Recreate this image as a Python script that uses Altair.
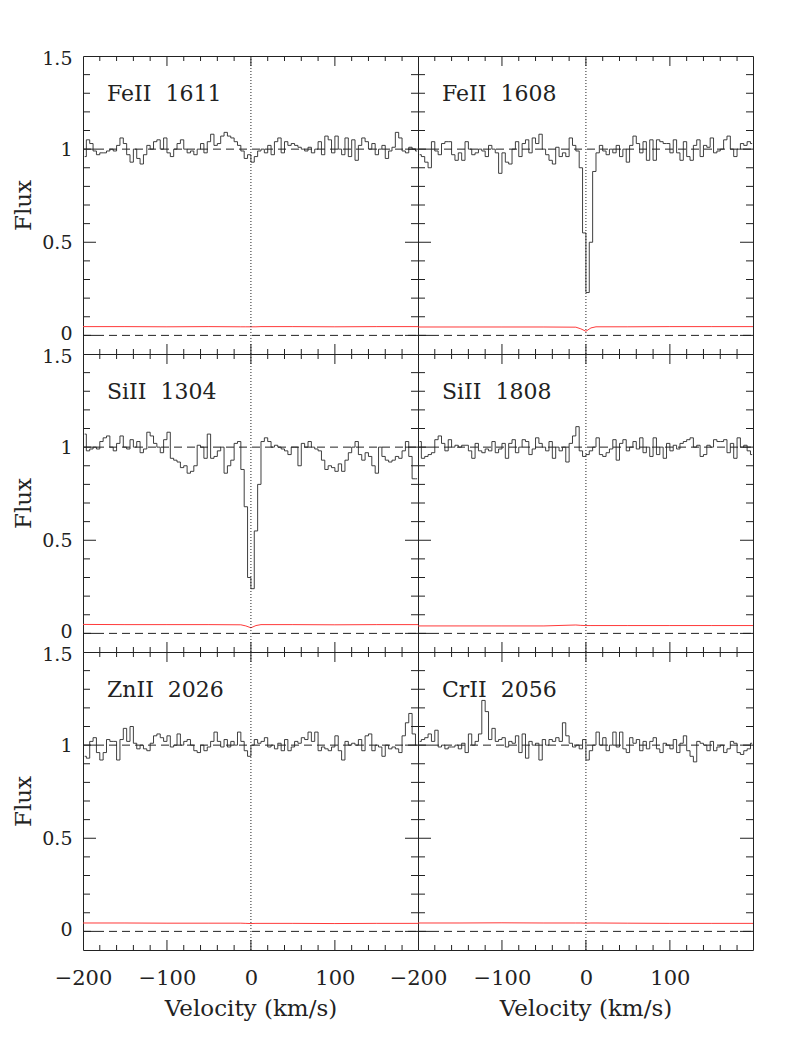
import altair as alt
import pandas as pd

# ---------------- data ----------------
VEL = list(range(-198, 200, 4))          # spectrum pixel centres (km/s)
ERR_VEL = [-200, -150, -100, -50, -12, -6, 0, 6, 12, 50, 100, 150, 199]

LABELS = ["FeII\u00a0\u00a01611", "FeII\u00a0\u00a01608", "SiII\u00a0\u00a01304",
          "SiII\u00a0\u00a01808", "ZnII\u00a0\u00a02026", "CrII\u00a0\u00a02056"]

FLUX_FEII_1611 = [
    0.96, 1.05, 1.03, 0.99, 0.97, 0.98, 0.98, 0.99, 1.00, 0.99,
    1.02, 1.06, 1.03, 0.97, 0.93, 1.00, 0.95, 0.92, 0.97, 1.02,
    1.00, 1.04, 1.05, 1.00, 1.06, 0.98, 0.96, 1.00, 1.03, 1.05,
    1.00, 0.98, 0.99, 0.97, 1.00, 1.03, 0.98, 1.04, 1.08, 1.02,
    1.03, 1.07, 1.09, 1.07, 1.06, 1.04, 1.02, 0.99, 0.95, 0.97,
    0.93, 0.96, 0.99, 1.00, 0.98, 1.02, 0.97, 1.04, 1.06, 0.98,
    1.04, 1.02, 1.03, 1.02, 1.01, 1.00, 0.99, 1.01, 0.98, 1.00,
    1.04, 0.97, 1.07, 1.05, 0.98, 1.07, 1.00, 0.97, 1.06, 0.96,
    1.05, 0.94, 1.02, 1.06, 1.04, 1.00, 1.03, 0.97, 1.00, 1.02,
    0.95, 0.99, 1.01, 1.09, 1.06, 0.99, 0.98, 1.01, 1.00, 0.99,
]
FLUX_FEII_1608 = [
    0.97, 0.96, 0.93, 0.90, 1.04, 0.99, 0.97, 1.03, 1.04, 1.04,
    0.97, 0.94, 0.98, 0.94, 1.04, 1.00, 0.97, 0.98, 1.00, 0.99,
    0.96, 1.02, 1.00, 0.98, 0.87, 0.98, 0.93, 0.92, 1.00, 1.04,
    0.96, 1.03, 1.05, 0.98, 1.06, 1.03, 1.08, 1.00, 0.97, 0.94,
    0.92, 1.01, 0.96, 0.98, 0.96, 1.06, 1.02, 0.99, 0.90, 0.55,
    0.23, 0.50, 0.88, 0.98, 1.02, 0.99, 0.97, 1.00, 0.98, 1.02,
    0.96, 1.00, 0.93, 1.02, 1.07, 1.03, 0.98, 1.04, 0.94, 1.05,
    0.94, 1.05, 1.04, 1.03, 1.03, 0.98, 1.05, 0.98, 0.94, 1.04,
    0.96, 0.94, 1.02, 1.05, 0.96, 1.02, 1.01, 1.06, 0.98, 0.99,
    1.00, 1.05, 1.07, 1.00, 0.96, 1.00, 1.03, 1.02, 1.04, 1.03,
]
FLUX_SIII_1304 = [
    1.07, 0.98, 0.99, 1.00, 0.99, 1.03, 1.05, 1.06, 1.00, 0.98,
    1.02, 1.06, 1.00, 0.99, 1.04, 1.00, 1.03, 0.97, 0.99, 1.08,
    1.06, 1.02, 1.00, 0.97, 1.04, 1.08, 0.94, 0.93, 0.92, 0.89,
    0.90, 0.86, 0.87, 0.90, 1.01, 1.00, 0.94, 1.07, 0.94, 0.95,
    0.98, 1.00, 0.86, 0.90, 0.93, 1.02, 1.03, 0.88, 0.68, 0.30,
    0.24, 0.55, 0.80, 1.03, 1.05, 1.03, 1.00, 1.01, 1.00, 0.99,
    0.98, 0.96, 1.00, 1.00, 0.90, 1.02, 1.00, 1.03, 1.00, 0.99,
    0.98, 0.93, 0.88, 0.90, 0.89, 0.87, 0.91, 0.87, 0.93, 0.97,
    1.00, 1.03, 0.96, 0.93, 0.97, 0.95, 0.90, 0.86, 1.00, 0.95,
    0.93, 0.92, 0.93, 0.95, 0.94, 0.98, 1.03, 0.95, 0.83, 0.83,
]
FLUX_SIII_1808 = [
    1.03, 0.94, 0.95, 0.96, 0.97, 1.04, 1.06, 1.02, 0.98, 1.04,
    1.00, 1.01, 1.00, 1.01, 1.01, 0.98, 0.94, 1.02, 0.98, 0.97,
    0.99, 0.98, 1.03, 0.97, 0.99, 1.02, 0.94, 1.02, 1.04, 0.97,
    1.00, 1.04, 1.03, 0.96, 0.99, 1.05, 1.02, 1.00, 0.98, 1.03,
    0.94, 1.00, 0.98, 1.00, 0.92, 1.02, 1.06, 1.11, 0.98, 0.95,
    0.96, 0.98, 1.00, 1.05, 0.96, 0.95, 0.97, 0.99, 1.04, 0.93,
    1.02, 1.04, 0.98, 1.00, 1.03, 0.99, 1.05, 0.97, 1.00, 0.95,
    1.05, 0.96, 1.00, 0.94, 1.02, 0.98, 1.01, 0.99, 1.02, 1.03,
    1.04, 1.05, 1.00, 1.01, 0.95, 0.96, 1.01, 1.00, 1.04, 1.03,
    1.03, 1.04, 0.97, 1.02, 0.94, 1.05, 1.00, 1.01, 0.98, 0.96,
]
FLUX_ZNII_2026 = [
    0.94, 0.93, 1.02, 1.04, 0.96, 0.92, 0.96, 1.03, 1.02, 1.02,
    0.92, 1.03, 1.09, 1.02, 1.10, 1.01, 0.98, 1.00, 0.98, 0.97,
    1.01, 1.05, 1.06, 1.04, 1.02, 1.05, 0.99, 1.00, 1.06, 1.00,
    1.02, 1.03, 1.00, 0.97, 0.96, 1.00, 0.97, 0.99, 1.02, 1.07,
    1.02, 0.99, 1.03, 0.99, 1.02, 1.00, 1.07, 1.02, 0.97, 0.94,
    1.00, 1.03, 1.01, 1.02, 1.04, 0.99, 1.00, 0.98, 1.01, 0.97,
    1.03, 0.97, 0.99, 1.02, 1.01, 1.04, 1.03, 1.07, 1.02, 1.07,
    0.97, 0.99, 0.98, 0.97, 0.99, 1.05, 0.97, 0.92, 1.02, 1.00,
    1.01, 1.00, 1.03, 0.97, 1.05, 1.06, 0.97, 1.00, 0.99, 0.94,
    1.00, 0.98, 0.99, 0.98, 0.96, 1.05, 1.12, 1.17, 1.06, 1.00,
]
FLUX_CRII_2056 = [
    1.02, 1.03, 1.04, 1.06, 1.02, 1.08, 0.99, 1.00, 0.98, 0.99,
    0.99, 1.00, 0.98, 1.01, 0.96, 1.06, 1.00, 1.02, 1.06, 1.24,
    1.18, 1.03, 1.09, 1.02, 1.03, 1.04, 0.99, 1.02, 1.01, 1.05,
    0.96, 1.06, 0.93, 1.02, 1.00, 1.01, 0.92, 1.03, 1.00, 1.03,
    1.02, 1.04, 1.02, 1.12, 1.05, 1.01, 0.99, 1.00, 0.98, 1.03,
    0.92, 0.97, 1.00, 1.07, 1.00, 1.04, 0.97, 1.00, 1.07, 0.99,
    1.07, 0.98, 0.96, 1.04, 1.01, 1.03, 0.97, 1.02, 0.98, 1.02,
    1.04, 0.98, 0.96, 1.01, 1.00, 0.98, 1.03, 0.96, 1.01, 1.05,
    0.97, 0.94, 0.91, 1.02, 1.01, 1.00, 0.97, 1.02, 0.97, 0.99,
    1.00, 0.96, 0.98, 1.02, 1.01, 0.96, 0.95, 0.97, 0.98, 1.01,
]

ERR_FEII_1611 = [0.047, 0.047, 0.046, 0.047, 0.046, 0.046, 0.046, 0.046, 0.047, 0.047, 0.046, 0.047, 0.047]
ERR_FEII_1608 = [0.045, 0.045, 0.045, 0.045, 0.044, 0.035, 0.022, 0.040, 0.046, 0.046, 0.047, 0.047, 0.047]
ERR_SIII_1304 = [0.048, 0.047, 0.047, 0.047, 0.046, 0.040, 0.030, 0.042, 0.047, 0.047, 0.046, 0.047, 0.047]
ERR_SIII_1808 = [0.040, 0.040, 0.040, 0.040, 0.045, 0.043, 0.042, 0.042, 0.042, 0.042, 0.042, 0.042, 0.042]
ERR_ZNII_2026 = [0.045, 0.045, 0.044, 0.044, 0.044, 0.043, 0.042, 0.043, 0.043, 0.043, 0.042, 0.043, 0.043]
ERR_CRII_2056 = [0.045, 0.045, 0.046, 0.045, 0.045, 0.045, 0.044, 0.045, 0.045, 0.044, 0.043, 0.043, 0.043]

GUIDE_Y = [0.0, 1.0]
ZERO_V = [0]
X_LABELS = [-200, -100, 0, 100]
Y_LABELS = [0, 0.5, 1, 1.5]
X_MINOR = [-180, -160, -140, -120, -80, -60, -40, -20, 20, 40, 60, 80, 120, 140, 160, 180]
X_MAJOR = [-100, 0, 100]
Y_MINOR = [0.1, 0.2, 0.3, 0.4, 0.6, 0.7, 0.8, 0.9, 1.1, 1.2, 1.3, 1.4]
Y_MAJOR = [0.0, 0.5, 1.0]

# ---------------- style ----------------
W, H = 335, 298
FONT = "DejaVu Serif"
INK = "#222222"
LINE = "#2a2a2a"
RED = "#ff3a3a"

xscale = alt.Scale(domain=[-200, 199], nice=False, zero=False)
yscale = alt.Scale(domain=[-0.1, 1.5], nice=False, zero=False)


def make_xaxis(show):
    if not show:
        return None
    return alt.Axis(values=X_LABELS, format="d", ticks=False, domain=False, grid=False,
                    labelFont=FONT, labelFontSize=21, labelColor=INK, labelPadding=17,
                    labelFlush=False, labelOverlap=False,
                    title="Velocity (km/s)", titleFont=FONT, titleFontSize=23,
                    titleFontWeight="normal", titleColor=INK, titlePadding=9)


def make_yaxis(show):
    if not show:
        return None
    return alt.Axis(values=Y_LABELS, format="~g", ticks=False, domain=False, grid=False,
                    labelFont=FONT, labelFontSize=19, labelColor=INK, labelPadding=11,
                    labelFlush=False, labelOverlap=False,
                    labelOffset={"condition": [
                        {"test": "datum.value == 0", "value": -2},
                        {"test": "datum.value == 1.5", "value": 2}],
                        "value": 0},
                    title="Flux", titleFont=FONT, titleFontSize=23,
                    titleFontWeight="normal", titleColor=INK, titlePadding=6)


def panel(label, flux, err, show_x, show_y):
    xa = make_xaxis(show_x)
    ya = make_yaxis(show_y)

    def X(f):
        return alt.X(f, type="quantitative", scale=xscale, axis=xa)

    def Y(f):
        return alt.Y(f, type="quantitative", scale=yscale, axis=ya)

    spec = alt.Chart(pd.DataFrame({"v": VEL, "f": flux})).mark_line(
        interpolate="step", color=LINE, strokeWidth=0.9, clip=True
    ).encode(x=X("v"), y=Y("f"))

    errl = alt.Chart(pd.DataFrame({"v": ERR_VEL, "e": err})).mark_line(
        color=RED, strokeWidth=1, clip=True
    ).encode(x=X("v"), y=Y("e"))

    hl = alt.Chart(pd.DataFrame({"g": GUIDE_Y})).mark_rule(
        color=INK, strokeDash=[8, 5], strokeWidth=1
    ).encode(y=Y("g"), x=alt.value(0), x2=alt.value(W))

    vl = alt.Chart(pd.DataFrame({"z": ZERO_V})).mark_rule(
        color=INK, strokeDash=[1, 2], strokeWidth=1
    ).encode(x=X("z"), y=alt.value(0), y2=alt.value(H))

    layers = [spec, errl, hl, vl]

    xmin = pd.DataFrame({"t": X_MINOR})
    xmaj = pd.DataFrame({"t": X_MAJOR})
    ymin = pd.DataFrame({"t": Y_MINOR})
    ymaj = pd.DataFrame({"t": Y_MAJOR})
    for df, ln in ((xmin, 5), (xmaj, 10)):
        layers.append(alt.Chart(df).mark_rule(color=INK, strokeWidth=1).encode(
            x=X("t"), y=alt.value(0), y2=alt.value(ln)))
        layers.append(alt.Chart(df).mark_rule(color=INK, strokeWidth=1).encode(
            x=X("t"), y=alt.value(H - ln), y2=alt.value(H)))
    for df, ln in ((ymin, 7), (ymaj, 13)):
        layers.append(alt.Chart(df).mark_rule(color=INK, strokeWidth=1).encode(
            y=Y("t"), x=alt.value(0), x2=alt.value(ln)))
        layers.append(alt.Chart(df).mark_rule(color=INK, strokeWidth=1).encode(
            y=Y("t"), x=alt.value(W - ln), x2=alt.value(W)))

    txt = alt.Chart(pd.DataFrame({"label": [label]})).mark_text(
        align="left", baseline="alphabetic", font=FONT, fontSize=22, color=INK
    ).encode(text="label:N", x=alt.value(24), y=alt.value(45))
    layers.append(txt)

    return alt.layer(*layers).properties(width=W, height=H)


p1 = panel(LABELS[0], FLUX_FEII_1611, ERR_FEII_1611, False, True)
p2 = panel(LABELS[1], FLUX_FEII_1608, ERR_FEII_1608, False, False)
p3 = panel(LABELS[2], FLUX_SIII_1304, ERR_SIII_1304, False, True)
p4 = panel(LABELS[3], FLUX_SIII_1808, ERR_SIII_1808, False, False)
p5 = panel(LABELS[4], FLUX_ZNII_2026, ERR_ZNII_2026, True, True)
p6 = panel(LABELS[5], FLUX_CRII_2056, ERR_CRII_2056, True, False)

chart = alt.concat(p1, p2, p3, p4, p5, p6, columns=2, spacing=0, bounds="flush").properties(
    padding={"left": 4, "top": 40, "right": 5, "bottom": 5},
    background="white",
).configure_view(stroke=INK, strokeWidth=1)

chart.save("out.html", embed_options={"renderer": "svg", "actions": False})
